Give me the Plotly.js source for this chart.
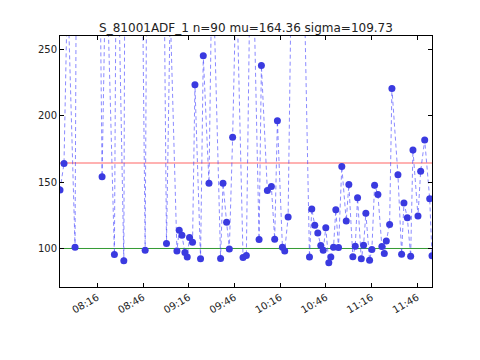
<!DOCTYPE html>
<html>
<head>
<meta charset="utf-8">
<script src="https://cdn.plot.ly/plotly-3.0.1.min.js"></script>
<style>html,body{margin:0;padding:0;background:#fff;}#chart{width:480px;height:360px;}</style>
</head>
<body>
<div id="chart"></div>
<script>
const day = '2016-01-01 ';
const times = [
'07:51:30','07:54:08','07:56:26','08:01:22','08:02:21','08:16:49','08:19:07','08:21:44','08:27:12','08:28:39',
'08:33:23','08:34:34','08:44:45','08:47:23','08:48:22','08:58:34','09:01:23','09:03:49','09:08:14','09:09:44',
'09:11:31','09:13:29','09:15:00','09:16:31','09:18:29','09:20:03','09:23:44','09:25:31','09:29:16','09:31:26',
'09:36:53','09:38:28','09:40:50','09:42:37','09:44:47','09:47:13','09:51:37','09:53:47','09:57:05','10:02:08',
'10:03:40','10:07:35','10:10:13','10:12:23','10:14:10','10:17:28','10:18:58','10:21:12','10:26:40','10:35:13',
'10:36:43','10:38:41','10:40:40','10:42:38','10:44:13','10:45:55','10:47:54','10:49:13','10:50:59','10:52:30',
'10:54:16','10:56:26','10:59:20','11:01:03','11:03:41','11:05:15','11:06:46','11:09:12','11:10:43','11:12:13',
'11:14:40','11:16:10','11:17:56','11:20:07','11:22:44','11:24:19','11:25:38','11:27:48','11:29:19','11:33:16',
'11:35:41','11:37:12','11:39:26','11:41:37','11:43:07','11:46:25','11:48:11','11:50:49','11:54:06','11:55:37'
];
const values = [
144,164,300,101,350,420,154,330,95.5,380,
90.7,500,400,98.7,300,470,103.7,280,98.2,113.7,
110,97,93.5,108.2,104.7,223.2,92.2,245.2,149.2,330,
92.5,149.2,119.7,99.7,183.7,310,93.2,94.7,380,106.7,
237.7,143.7,146.7,107,196.2,101,98.2,123.7,600,93.5,
129.7,117.5,111.7,102.2,98.7,115.7,89.2,93.5,101,129.2,
100.7,161.7,120.7,148.2,93.7,101.7,138.2,92.2,102.5,126.5,
91.2,99.2,147.7,140.7,101.5,96.2,105.7,118,220.5,155.5,
95.7,134.2,123.2,94.2,174.2,124.5,158.2,181.7,137.5,94.5
];
const tickLabels = ['08:16','08:46','09:16','09:46','10:16','10:46','11:16','11:46'];
const mu = 164.36;
const lowerLine = 100;
const titleText = 'S_81001ADF_1 n=90 mu=164.36 sigma=109.73';

const xs = times.map(t => day + t);
const font = 'DejaVu Sans, sans-serif';

const trace = {
  x: xs, y: values, type: 'scatter', mode: 'lines+markers',
  line: {color: 'rgba(60,60,255,0.6)', width: 1, dash: '4px,3px'},
  marker: {color: '#3a3ae0', size: 7},
  cliponaxis: true, hoverinfo: 'skip'
};

const layout = {
  width: 480, height: 360,
  margin: {l: 60, r: 48, t: 36, b: 73, pad: 0},
  paper_bgcolor: '#fff', plot_bgcolor: '#fff',
  showlegend: false,
  font: {family: font, color: '#222'},
  title: {text: titleText, font: {family: font, size: 12, color: '#222'},
          x: 0.5125, xanchor: 'center', y: 0.924, yanchor: 'middle', yref: 'container'},
  xaxis: {
    type: 'date', range: [xs[0], xs[xs.length - 1]],
    tickvals: tickLabels.map(t => day + t + ':00'), ticktext: tickLabels,
    tickangle: -30, ticks: 'inside', ticklen: 4, tickcolor: '#000',
    showline: true, linecolor: '#000', linewidth: 1, mirror: 'allticks',
    showgrid: false, zeroline: false,
    tickfont: {family: font, size: 10, color: '#222'}
  },
  yaxis: {
    range: [71, 260], tickvals: [100, 150, 200, 250],
    ticks: 'inside', ticklen: 4, tickcolor: '#000',
    showline: true, linecolor: '#000', linewidth: 1, mirror: 'allticks',
    showgrid: false, zeroline: false,
    tickfont: {family: font, size: 10, color: '#222'}
  },
  shapes: [
    {type: 'line', xref: 'paper', x0: 0, x1: 1, yref: 'y', y0: mu, y1: mu,
     line: {color: 'rgba(255,60,60,0.8)', width: 1}, layer: 'below'},
    {type: 'line', xref: 'paper', x0: 0, x1: 1, yref: 'y', y0: lowerLine, y1: lowerLine,
     line: {color: 'rgba(0,130,0,0.8)', width: 1}, layer: 'below'}
  ]
};

Plotly.newPlot('chart', [trace], layout, {staticPlot: true, displayModeBar: false});
</script>
</body>
</html>
